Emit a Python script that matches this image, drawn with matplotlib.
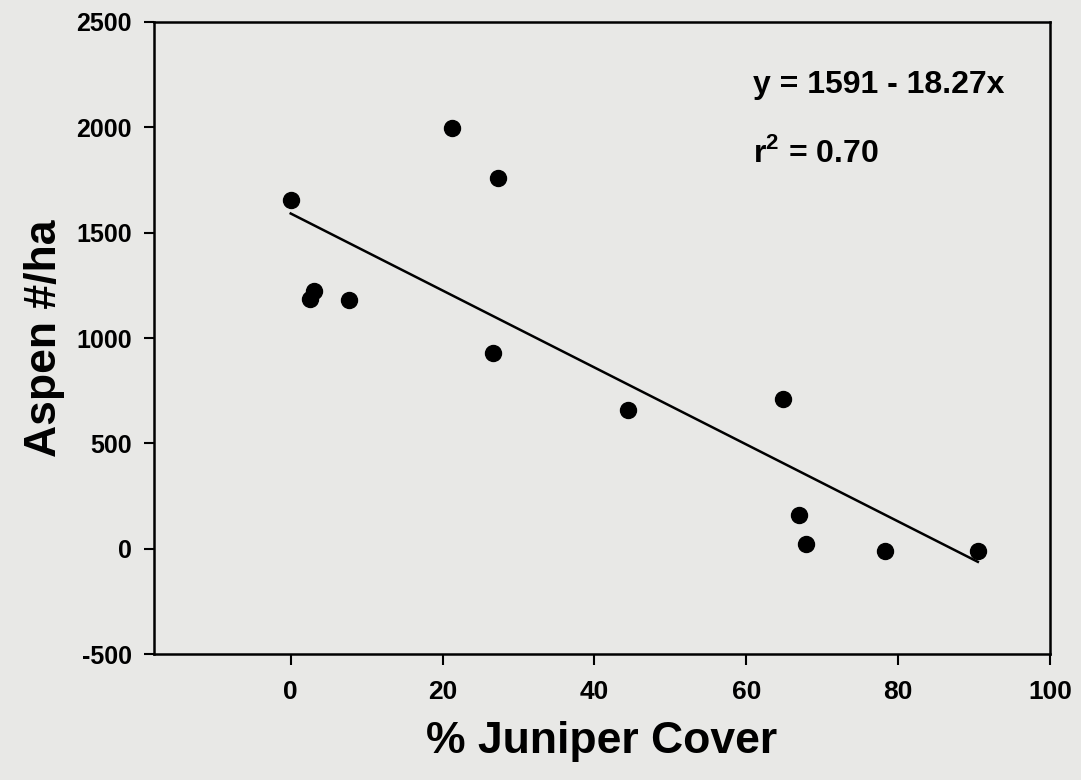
import numpy as np
import matplotlib
matplotlib.use("Agg")
import matplotlib.pyplot as plt

# data
juniper_cover = [0, 2.6, 3.1, 7.7, 21.3, 27.3, 26.7, 44.4, 64.9, 66.9, 67.9, 78.3, 90.5]
aspen_density = [1655, 1185, 1222, 1180, 1995, 1758, 928, 660, 712, 160, 22, -10, -10]
intercept = 1591
slope = -18.27
r_squared = 0.70

x_ticks = [0, 20, 40, 60, 80, 100]
y_ticks = [-500, 0, 500, 1000, 1500, 2000, 2500]

plt.rcParams['font.family'] = ['Liberation Sans', 'DejaVu Sans']
plt.rcParams['axes.unicode_minus'] = False
plt.rcParams['mathtext.fontset'] = 'custom'
plt.rcParams['mathtext.rm'] = 'Liberation Sans:bold'
plt.rcParams['mathtext.bf'] = 'Liberation Sans:bold'

bg = '#e8e8e6'
fig = plt.figure(figsize=(10.81, 7.8), dpi=100, facecolor=bg)
ax = fig.add_axes([0.1425, 0.1615, 0.8288, 0.8103], facecolor=bg)

ax.plot(juniper_cover, aspen_density, 'o', color='black', markersize=11.5)
fit_x = np.array([min(juniper_cover), max(juniper_cover)])
ax.plot(fit_x, intercept + slope * fit_x, color='black', linewidth=1.8)

ax.set_xlim(-18, 100)
ax.set_ylim(-500, 2500)
ax.set_xticks(x_ticks)
ax.set_yticks(y_ticks)

for s in ax.spines.values():
    s.set_linewidth(1.8)

ax.tick_params(axis='y', direction='out', length=7, width=1.5, pad=9, labelsize=18)
ax.tick_params(axis='x', direction='out', length=8, width=1.5, pad=11, labelsize=19)
for lab in ax.get_xticklabels() + ax.get_yticklabels():
    lab.set_fontweight('bold')

ax.set_xlabel('% Juniper Cover', fontsize=32, fontweight='bold', labelpad=12)
ax.set_ylabel('Aspen #/ha', fontsize=32, fontweight='bold', labelpad=8)

ax.text(60.9, 2164, 'y = %d - %.2fx' % (intercept, -slope), fontsize=23,
        fontweight='bold', va='baseline')
ax.text(60.9, 1837, r'r$^{\mathbf{2}}$ = %.2f' % r_squared, fontsize=23,
        fontweight='bold', va='baseline')

fig.savefig('out.png', dpi=100, facecolor=bg)
